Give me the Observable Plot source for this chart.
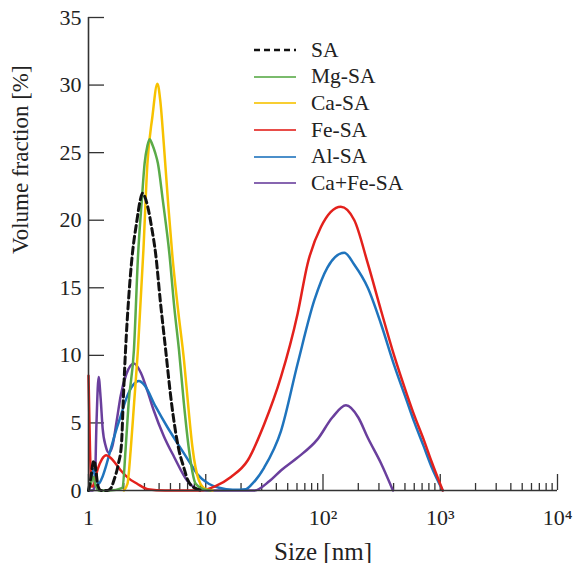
<!DOCTYPE html>
<html>
<head>
<meta charset="utf-8">
<script src="https://cdn.jsdelivr.net/npm/d3@7"></script>
<script src="https://cdn.jsdelivr.net/npm/@observablehq/plot@0.6"></script>
<style>
  html, body { margin: 0; padding: 0; background: #fff; }
  #wrap { position: relative; width: 578px; height: 563px; font-family: "Liberation Serif", "DejaVu Serif", serif; }
  #legend { position: absolute; left: 254px; top: 37px; font-size: 21.5px; color: #222; }
  .row { display: flex; align-items: center; height: 26.6px; }
  .row svg { width: 42px; height: 10px; margin-right: 15px; }
</style>
</head>
<body>
<div id="wrap"><div id="legend"></div></div>
<script>
// ---- data ----
const seriesNames = ["SA", "Mg-SA", "Ca-SA", "Fe-SA", "Al-SA", "Ca+Fe-SA"];
const seriesColors = ["#111111", "#5aab48", "#f7c200", "#e3211c", "#1f74bd", "#6a3f9d"];

const saSize = [1.0, 1.05, 1.09, 1.12, 1.16, 1.2, 1.28, 1.45, 1.56, 1.64, 1.8, 1.91, 1.98, 2.07, 2.2, 2.36, 2.57, 2.75, 2.88, 3.0, 3.2, 3.45, 3.74, 4.1, 4.55, 5.1, 5.9, 6.5, 7.0, 8.0, 9.5];
const saVal  = [0, 1.0, 2.0, 2.2, 1.4, 0.4, 0, 0, 0.2, 0.7, 2.0, 3.4, 6.7, 10.4, 14.2, 17.4, 19.8, 21.4, 22.0, 21.8, 21.0, 19.5, 17.5, 14.0, 10.4, 6.5, 3.0, 1.7, 0.8, 0.2, 0];

const mgSize = [1.0, 1.05, 1.1, 1.15, 1.22, 1.5, 1.95, 2.07, 2.2, 2.44, 2.65, 2.85, 3.01, 3.18, 3.32, 3.5, 3.7, 3.91, 4.3, 4.9, 5.4, 5.91, 6.5, 7.2, 8.2, 9.5, 11];
const mgVal  = [0, 0.6, 1.0, 0.4, 0, 0, 0.2, 3.0, 6.5, 10.4, 17.5, 21.5, 24.2, 25.5, 26.0, 25.6, 25.0, 24.2, 21.5, 17.5, 13.5, 10.4, 6.5, 3.0, 0.5, 0.1, 0];

const caSize = [2.0, 2.15, 2.29, 2.45, 2.64, 2.94, 3.18, 3.5, 3.87, 4.1, 4.4, 4.8, 5.2, 5.8, 6.53, 7.1, 7.7, 8.7, 10, 11.5];
const caVal  = [0, 0.5, 3.0, 6.5, 10.4, 17.8, 24.2, 27.6, 30.1, 28.8, 25.5, 21.0, 17.3, 13.4, 9.6, 6.2, 3.2, 0.8, 0.1, 0];

const feSize = [1.0, 1.03, 1.06, 1.09, 1.2, 1.3, 1.42, 1.55, 1.7, 1.88, 2.2, 2.6, 3.2, 4.5, 9, 12, 16.4, 22.7, 31.5, 43.8, 60.8, 74, 96, 142, 185, 241, 313, 407, 520, 604, 720, 838, 1050];
const feVal  = [8.5, 3.0, 0.3, 0.3, 1.6, 2.3, 2.6, 2.4, 2.0, 1.5, 0.9, 0.5, 0.1, 0, 0, 0.3, 1.0, 2.2, 4.9, 8.4, 13.1, 16.8, 19.5, 21.0, 20.0, 16.8, 13.3, 9.9, 7.1, 5.5, 3.8, 2.2, 0];

const alSize = [1.0, 1.06, 1.11, 1.16, 1.22, 1.3, 1.42, 1.54, 1.7, 1.88, 2.1, 2.4, 2.69, 3.0, 3.74, 4.7, 5.73, 7.4, 8.49, 10.6, 13, 17, 22, 25, 31.5, 43.8, 60.8, 84.5, 109, 152, 185, 241, 313, 407, 520, 604, 720, 838, 1050];
const alVal  = [0, 0.8, 1.6, 0.9, 0.5, 0.9, 1.9, 3.0, 4.3, 5.5, 6.8, 7.8, 8.1, 7.8, 6.2, 4.7, 3.5, 2.0, 1.2, 0.5, 0.2, 0.05, 0.1, 0.5, 1.7, 4.4, 9.4, 14.1, 16.5, 17.6, 16.7, 15.0, 12.3, 9.2, 6.6, 5.0, 3.3, 1.8, 0];

const cafeSize = [1.0, 1.08, 1.13, 1.17, 1.22, 1.27, 1.32, 1.4, 1.49, 1.6, 1.75, 1.88, 2.1, 2.44, 2.8, 3.2, 3.61, 4.4, 5.36, 6.98, 8.5, 10, 15, 26, 35, 44, 60, 90, 120, 157, 200, 241, 313, 395];
const cafeVal  = [0, 0, 0.3, 5.0, 8.4, 6.8, 4.6, 3.3, 2.8, 3.3, 5.3, 7.0, 8.6, 9.4, 8.7, 7.3, 5.9, 4.0, 2.5, 0.7, 0.1, 0, 0, 0, 0.7, 1.5, 2.4, 3.8, 5.4, 6.3, 5.4, 3.9, 2.0, 0];

const xMajor = [1, 10, 100, 1000, 10000];
const xMajorLabels = ["1", "10", "10²", "10³", "10⁴"];
const yTicks = [0, 5, 10, 15, 20, 25, 30, 35];
const xTitle = "Size [nm]";
const yTitle = "Volume fraction [%]";

// ---- build tables ----
const sizes = [saSize, mgSize, caSize, feSize, alSize, cafeSize];
const vals = [saVal, mgVal, caVal, feVal, alVal, cafeVal];
const tables = seriesNames.map((name, i) => sizes[i].map((s, j) => ({series: name, size: s, value: vals[i][j]})));
const xMinor = [];
for (const d of [1, 10, 100, 1000]) for (let k = 2; k <= 9; k++) xMinor.push(d * k);

const W = 578, H = 563;
const mL = 88, mR = 21, mT = 17, mB = 73;
const innerH = H - mT - mB, innerW = W - mL - mR;

const drawOrder = [5, 4, 3, 2, 1, 0];
const lineMarks = drawOrder.map(i => Plot.line(tables[i], {
  x: "size", y: "value",
  stroke: seriesColors[i],
  strokeWidth: i === 0 ? 3 : 2.5,
  strokeDasharray: i === 0 ? "7,4" : null,
  curve: "monotone-x"
}));

const chart = Plot.plot({
  width: W, height: H,
  marginLeft: mL, marginRight: mR, marginTop: mT, marginBottom: mB,
  style: {fontFamily: "Liberation Serif, serif", fontSize: "22px", color: "#222", background: "white", overflow: "visible"},
  x: {type: "log", domain: [1, 10000]},
  y: {domain: [0, 35]},
  marks: [
    Plot.axisX(xMajor, {tickSize: 0, tickPadding: 19, tickFormat: d => xMajorLabels[xMajor.indexOf(d)], fontSize: 22, label: null}),
    Plot.axisY(yTicks, {tickSize: 0, tickPadding: 7, fontSize: 22, label: null}),
    Plot.text([xTitle], {text: d => d, frameAnchor: "bottom", dy: 69, lineAnchor: "bottom", fontSize: 25, fill: "#222"}),
    Plot.text([yTitle], {text: d => d, frameAnchor: "left", dx: -77, rotate: -90, lineAnchor: "top", fontSize: 23, fill: "#222"}),
    Plot.tickX(xMajor, {x: d => d, stroke: "#333", strokeWidth: 1.3, insetTop: innerH - 16}),
    Plot.tickX(xMinor, {x: d => d, stroke: "#333", strokeWidth: 1.3, insetTop: innerH - 7}),
    Plot.tickY(yTicks, {y: d => d, stroke: "#333", strokeWidth: 1.3, insetRight: innerW - 16}),
    ...lineMarks,
    Plot.ruleX([1], {stroke: "#333", strokeWidth: 1.6}),
    Plot.ruleY([0], {stroke: "#333", strokeWidth: 1.6})
  ]
});
document.getElementById("wrap").prepend(chart);

// ---- legend ----
const legend = document.getElementById("legend");
seriesNames.forEach((name, i) => {
  const row = document.createElement("div");
  row.className = "row";
  row.innerHTML = `<svg viewBox="0 0 42 10"><line x1="0" y1="5" x2="42" y2="5" stroke="${seriesColors[i]}" stroke-width="${i === 0 ? 2.5 : 2}" ${i === 0 ? 'stroke-dasharray="6,4"' : ''} opacity="${i === 0 ? 1 : 0.8}"/></svg><span>${name}</span>`;
  legend.appendChild(row);
});
</script>
</body>
</html>
